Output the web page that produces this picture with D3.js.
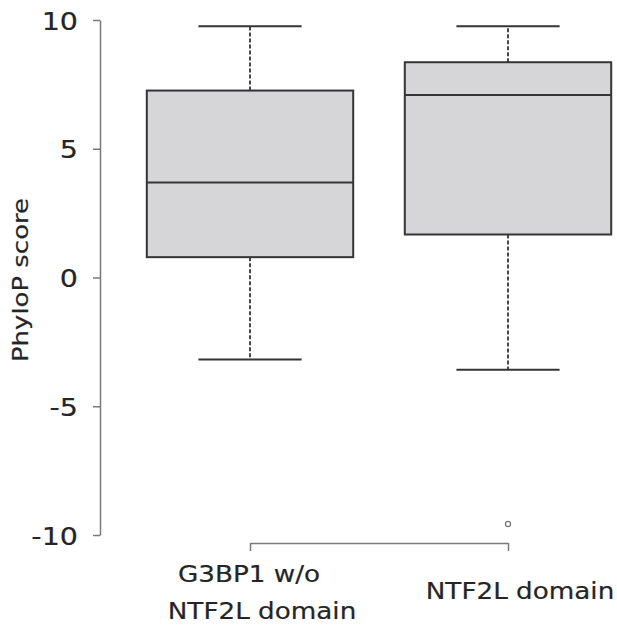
<!DOCTYPE html>
<html>
<head>
<meta charset="utf-8">
<script src="https://cdn.jsdelivr.net/npm/d3@7"></script>
<style>
  html, body { margin: 0; padding: 0; background: #ffffff; }
  svg { display: block; }
  text { font-family: "DejaVu Sans", sans-serif; fill: #252525; stroke: #252525; stroke-width: 0.2px; }
</style>
</head>
<body>
<div id="chart"></div>
<script>
// ---- data ----
const categories   = ["G3BP1 w/o NTF2L domain", "NTF2L domain"];
const labelLines   = [["G3BP1 w/o", "NTF2L domain"], ["NTF2L domain"]];
const whiskerLow   = [-3.18, -3.58];
const q1           = [0.79, 1.67];
const median       = [3.69, 7.09];
const q3           = [7.26, 8.36];
const whiskerHigh  = [9.76, 9.76];
const outliers     = [[], [-9.57]];
const yTicks       = [-10, -5, 0, 5, 10];
const yLabel       = "PhyloP score";

// ---- layout ----
const W = 617, H = 627;
const svg = d3.select("#chart").append("svg").attr("width", W).attr("height", H);

const x = d3.scalePoint().domain(categories).range([250, 508]);
const y = d3.scaleLinear().domain([-10, 10]).range([535, 20]);
const boxW = x.step() * 0.8;
const capW = boxW / 2;

const axisColor = "#7a7a7a";
const boxStroke = "#353535";
const boxFill = "#d6d6d8";

// y axis
const yAxis = svg.append("g")
  .attr("transform", "translate(100,0)")
  .call(d3.axisLeft(y).tickValues(yTicks).tickSize(7).tickSizeOuter(0).tickFormat(d3.format("d")));
yAxis.select(".domain").attr("stroke", axisColor).attr("stroke-width", 1.5);
yAxis.selectAll(".tick line").attr("stroke", axisColor).attr("stroke-width", 1.5);
yAxis.selectAll(".tick text")
  .attr("x", 0).attr("dy", "0.36em")
  .attr("transform", `translate(-22,0) scale(1.12,1)`)
  .attr("font-size", 25.5)
  .attr("font-family", "DejaVu Sans")
  .attr("fill", "#252525")
  .text(d => d < 0 ? "-" + Math.abs(d) : d);

// x axis (bracket)
const xAxis = svg.append("g")
  .attr("transform", "translate(0,543)")
  .call(d3.axisBottom(x).tickSize(8).tickSizeOuter(0).tickFormat(""));
xAxis.select(".domain").attr("stroke", axisColor).attr("stroke-width", 1.5);
xAxis.selectAll(".tick line").attr("stroke", axisColor).attr("stroke-width", 1.5);

// x labels
const lineDx = [[-1, 12], [12]];
const lineY  = [[582, 619], [599]];
categories.forEach((c, i) => {
  labelLines[i].forEach((t, j) => {
    svg.append("text")
      .attr("transform", `translate(${x(c) + lineDx[i][j]},${lineY[i][j]}) scale(1.14,1)`)
      .attr("text-anchor", "middle")
      .attr("font-size", 23)
      .text(t);
  });
});

// y label
svg.append("text")
  .attr("transform", `translate(28,280) rotate(-90) scale(1.18,1)`)
  .attr("text-anchor", "middle")
  .attr("font-size", 22)
  .text(yLabel);

// boxes
const g = svg.append("g");
categories.forEach((c, i) => {
  const cx = x(c);
  // whiskers (dashed)
  g.append("line")
    .attr("x1", cx).attr("x2", cx)
    .attr("y1", y(q3[i])).attr("y2", y(whiskerHigh[i]))
    .attr("stroke", boxStroke).attr("stroke-width", 1.8).attr("stroke-dasharray", "4,2");
  g.append("line")
    .attr("x1", cx).attr("x2", cx)
    .attr("y1", y(q1[i])).attr("y2", y(whiskerLow[i]))
    .attr("stroke", boxStroke).attr("stroke-width", 1.8).attr("stroke-dasharray", "4,2");
  // caps
  [whiskerHigh[i], whiskerLow[i]].forEach(v => {
    g.append("line")
      .attr("x1", cx - capW / 2).attr("x2", cx + capW / 2)
      .attr("y1", y(v)).attr("y2", y(v))
      .attr("stroke", boxStroke).attr("stroke-width", 2);
  });
  // box
  g.append("rect")
    .attr("x", cx - boxW / 2).attr("width", boxW)
    .attr("y", y(q3[i])).attr("height", y(q1[i]) - y(q3[i]))
    .attr("fill", boxFill).attr("stroke", boxStroke).attr("stroke-width", 2);
  // median
  g.append("line")
    .attr("x1", cx - boxW / 2).attr("x2", cx + boxW / 2)
    .attr("y1", y(median[i])).attr("y2", y(median[i]))
    .attr("stroke", boxStroke).attr("stroke-width", 2);
  // outliers
  outliers[i].forEach(v => {
    g.append("circle")
      .attr("cx", cx).attr("cy", y(v)).attr("r", 2.6)
      .attr("fill", "none").attr("stroke", "#777").attr("stroke-width", 1.2);
  });
});
</script>
</body>
</html>
